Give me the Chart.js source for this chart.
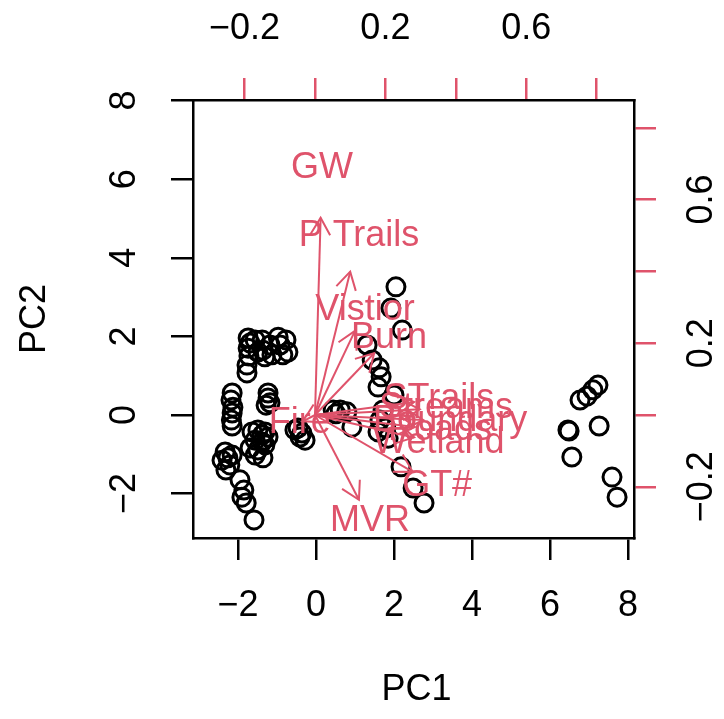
<!DOCTYPE html>
<html>
<head>
<meta charset="utf-8">
<script src="https://cdn.jsdelivr.net/npm/chart.js@4.4.1/dist/chart.umd.min.js"></script>
<style>
html,body{margin:0;padding:0;background:#fff;}
#wrap{width:724px;height:719px;position:relative;}
</style>
</head>
<body>
<div id="wrap"><canvas id="c"></canvas></div>
<script>
// Observation scores (PC1, PC2)
const pc1 = [
 -1.74,-1.74,-1.72,-1.77,-1.77,-1.56,-1.38,-1.36,-1.31,-1.18,-1.13,-0.97,-0.92,-0.85,-0.72,-0.77,-1.69,-1.49,
 -2.15,-2.18,-2.13,-2.15,-2.17,-2.15,
 -1.23,-1.23,-1.18,-1.28,
 -1.64,-1.49,-1.31,-1.56,-1.38,-1.69,-1.49,-1.31,-1.23,-1.56,-1.36,-1.38,
 -0.46,-0.36,-0.28,-0.41,-0.54,
 -2.33,-2.26,-2.41,-2.21,-2.31,-2.15,
 -1.95,-1.85,-1.90,-1.79,-1.59,
 0.44,0.62,0.79,0.92,0.51,
 2.05,1.92,2.21,1.31,1.44,1.62,1.67,1.59,2.00,
 1.72,1.64,1.79,1.85,1.59,
 2.18,2.49,2.77,
 6.77,6.95,7.10,7.23,6.46,6.49,7.26,6.56,7.59,7.72
];
const pc2 = [
 1.96,1.70,1.50,1.27,1.07,1.91,1.91,1.65,1.48,1.78,1.53,1.98,1.78,1.53,1.60,1.91,1.83,1.60,
 0.56,0.38,0.20,0.05,-0.13,-0.28,
 0.56,0.43,0.31,0.25,
 -0.43,-0.38,-0.43,-0.64,-0.69,-0.84,-0.89,-0.76,-0.56,-1.02,-1.09,-0.51,
 -0.33,-0.46,-0.64,-0.56,-0.38,
 -0.94,-1.09,-1.15,-1.27,-1.40,-1.02,
 -1.65,-1.91,-2.09,-2.24,-2.67,
 0.13,0.13,0.08,-0.31,0.03,
 3.26,2.72,2.16,1.78,1.40,1.20,0.97,0.71,0.51,
 0.13,-0.13,-0.33,-0.59,-0.43,
 -1.32,-1.86,-2.24,
 0.38,0.48,0.64,0.76,-0.38,-0.41,-0.28,-1.07,-1.58,-2.09
];
// Variable loadings
const varNames = ["GW","P Trails","Vistior","Burn","STrails","Streams","Boundary","Roads","Wetland","GT#","MVR","Fire"];
const load1 = [0.020,0.125,0.142,0.210,0.352,0.372,0.384,0.355,0.352,0.347,0.156,-0.043];
const load2 = [0.687,0.499,0.293,0.215,0.045,0.020,-0.017,-0.042,-0.078,-0.198,-0.295,-0.022];
// Tick values / labels
const pcTicks = [-2,0,2,4,6,8];
const loadTicks = [-0.2,0,0.2,0.4,0.6,0.8];
const loadTickLabels = ["\u22120.2","","0.2","","0.6",""];

const RED = "#DF536B";
const FONT = "36px 'Liberation Sans', Arial, Helvetica, sans-serif";
const fmt = v => (v < 0 ? "\u2212" + Math.abs(v) : String(v));

const points = pc1.map((x,i)=>({x:x,y:pc2[i]}));

const fixTicks = vals => (scale => { scale.ticks = vals.map(v=>({value:v})); });

const overlay = {
  id:'overlay',
  afterDatasetsDraw(chart){
    const ctx = chart.ctx, s = chart.scales;
    const ox = s.x2.getPixelForValue(0), oy = s.y2.getPixelForValue(0);
    ctx.save();
    ctx.fillStyle = RED;
    ctx.font = FONT;
    ctx.textAlign = 'center';
    ctx.textBaseline = 'middle';
    varNames.forEach((n,i)=>{
      ctx.fillText(n, s.x2.getPixelForValue(load1[i]), s.y2.getPixelForValue(load2[i]));
    });
    ctx.strokeStyle = RED;
    ctx.lineWidth = 2;
    const L = 20, ang = Math.PI/6;
    varNames.forEach((n,i)=>{
      const tx = s.x2.getPixelForValue(0.8*load1[i]);
      const ty = s.y2.getPixelForValue(0.8*load2[i]);
      ctx.beginPath(); ctx.moveTo(ox,oy); ctx.lineTo(tx,ty); ctx.stroke();
      const a = Math.atan2(ty-oy, tx-ox);
      ctx.beginPath();
      ctx.moveTo(tx - L*Math.cos(a-ang), ty - L*Math.sin(a-ang));
      ctx.lineTo(tx,ty);
      ctx.lineTo(tx - L*Math.cos(a+ang), ty - L*Math.sin(a+ang));
      ctx.stroke();
    });
    ctx.restore();
  },
  afterDraw(chart){
    const ctx = chart.ctx, s = chart.scales;
    ctx.save();
    ctx.fillStyle = '#000';
    ctx.font = FONT;
    ctx.textAlign = 'center';
    ctx.textBaseline = 'middle';
    pcTicks.forEach(v=>{ ctx.fillText(fmt(v), s.x.getPixelForValue(v), 606); });
    loadTicks.forEach((v,i)=>{ if(loadTickLabels[i]) ctx.fillText(loadTickLabels[i], s.x2.getPixelForValue(v), 29); });
    pcTicks.forEach(v=>{
      ctx.save(); ctx.translate(125, s.y.getPixelForValue(v)); ctx.rotate(-Math.PI/2);
      ctx.fillText(fmt(v),0,0); ctx.restore();
    });
    loadTicks.forEach((v,i)=>{
      if(!loadTickLabels[i]) return;
      ctx.save(); ctx.translate(702, s.y2.getPixelForValue(v)); ctx.rotate(-Math.PI/2);
      ctx.fillText(loadTickLabels[i],0,0); ctx.restore();
    });
    ctx.fillText("PC1", (chart.chartArea.left+chart.chartArea.right)/2+3, 690);
    ctx.save(); ctx.translate(35,(chart.chartArea.top+chart.chartArea.bottom)/2); ctx.rotate(-Math.PI/2);
    ctx.fillText("PC2",0,0); ctx.restore();
    ctx.restore();
  }
};

const gridOpts = (col) => ({drawOnChartArea:false, drawTicks:true, tickLength:22, tickWidth:2.5, tickColor:col, color:col, lineWidth:2.5});
const borderOpts = {display:true, color:'#000', width:2.5};

new Chart(document.getElementById('c'), {
  type:'scatter',
  data:{datasets:[{
    data: points,
    xAxisID:'x', yAxisID:'y',
    pointStyle:'circle', pointRadius:9, pointHoverRadius:9,
    borderColor:'#000', backgroundColor:'rgba(0,0,0,0)', pointBorderWidth:3, borderWidth:3
  }]},
  options:{
    responsive:true, maintainAspectRatio:false, animation:false,
    layout:{padding:0},
    plugins:{legend:{display:false}, tooltip:{enabled:false}},
    events:[],
    scales:{
      x:{type:'linear', position:'bottom', min:-3.154, max:8.154,
         afterBuildTicks: fixTicks(pcTicks), ticks:{display:false},
         grid:gridOpts('#000'), border:borderOpts,
         afterFit(sc){ sc.height = 181; }},
      y:{type:'linear', position:'left', min:-3.130, max:8.015,
         afterBuildTicks: fixTicks(pcTicks), ticks:{display:false},
         grid:gridOpts('#000'), border:borderOpts,
         afterFit(sc){ sc.width = 193; }},
      x2:{type:'linear', position:'top', min:-0.3466, max:0.9063,
         afterBuildTicks: fixTicks(loadTicks), ticks:{display:false},
         grid:gridOpts(RED), border:borderOpts,
         afterFit(sc){ sc.height = 100; }},
      y2:{type:'linear', position:'right', min:-0.3426, max:0.8774,
         afterBuildTicks: fixTicks(loadTicks), ticks:{display:false},
         grid:gridOpts(RED), border:borderOpts,
         afterFit(sc){ sc.width = 90; }}
    }
  },
  plugins:[overlay]
});
</script>
</body>
</html>
